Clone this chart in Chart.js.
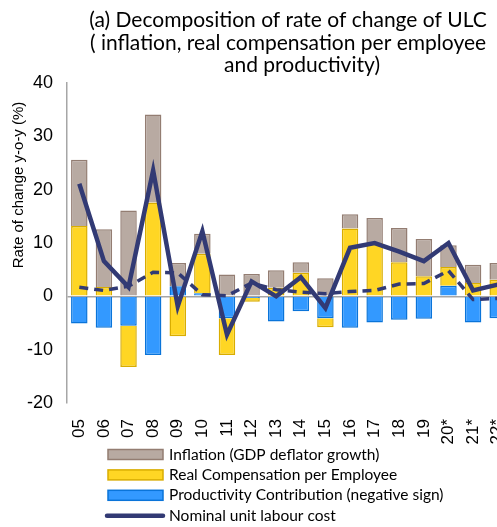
<!DOCTYPE html>
<html>
<head>
<meta charset="utf-8">
<script src="https://cdn.jsdelivr.net/npm/chart.js@4/dist/chart.umd.min.js"></script>
<style>
  html, body { margin: 0; padding: 0; background: #fff; overflow: hidden; }
  #wrap { position: relative; width: 580px; height: 560px; }
</style>
</head>
<body>
<div id="wrap"><canvas id="ulcChart" width="580" height="560"></canvas></div>
<script>
// ===== Data =====
const years = ["05", "06", "07", "08", "09", "10", "11", "12", "13", "14", "15", "16", "17", "18", "19", "20*", "21*", "22*"];
const productivity = [-5.1, -5.9, -5.5, -11.0, 1.9, 0.6, -4.1, -0.3, -4.7, -2.8, -4.1, -5.9, -4.9, -4.4, -4.2, 2.0, -4.9, -4.1];
const realComp = [13.2, 1.75, -7.75, 17.6, -7.5, 7.4, -6.9, -0.7, 1.6, 4.4, -1.7, 12.7, 10.0, 6.4, 3.75, 3.5, 2.5, 3.1];
const inflation = [12.4, 10.85, 16.1, 16.5, 4.35, 3.75, 4.1, 4.2, 3.3, 2.0, 3.4, 2.7, 4.7, 6.4, 7.0, 4.1, 3.4, 3.15];
const nominalUlc = [21.1, 6.6, 1.75, 23.6, -1.9, 12.2, -7.2, 2.8, 0.0, 3.6, -2.2, 9.1, 10.0, 8.4, 6.6, 10.0, 1.1, 2.2];
const dashedSeries = [1.7, 1.1, 1.9, 4.5, 4.4, 0.3, 0.1, 2.5, 1.25, 0.8, 0.5, 0.9, 1.1, 2.3, 2.4, 4.8, -0.6, -0.4];

const yTicks = { min: -20, max: 40, step: 10 };

const titleLines = [
  "(a) Decomposition of rate of change of ULC",
  "( inflation, real compensation per employee",
  "and productivity)"
];

const LINE_COLOR = "#323a74";

// ===== Plugins: title, y-axis title, legend =====
const titlePlugin = {
  id: "manualTitle",
  afterDraw(chart) {
    const ctx = chart.ctx;
    ctx.save();
    ctx.fillStyle = "#000";
    ctx.font = "21px Lato";
    ctx.textAlign = "center";
    ctx.textBaseline = "middle";
    const xs = [288, 288, 302];
    const ys = [20, 43, 65];
    titleLines.forEach((t, i) => ctx.fillText(t, xs[i], ys[i]));

    // y axis title
    ctx.translate(19, 185);
    ctx.rotate(-Math.PI / 2);
    ctx.font = "15px 'Liberation Sans'";
    ctx.fillStyle = "#000";
    ctx.fillText("Rate of change y-o-y (%)", 0, 0);
    ctx.restore();
  }
};

const legendPlugin = {
  id: "manualLegend",
  afterDraw(chart) {
    const ctx = chart.ctx;
    const ds = chart.data.datasets;
    const order = [2, 1, 0, 3, 4];
    ctx.save();
    ctx.font = "15.5px Lato";
    ctx.textBaseline = "middle";
    ctx.textAlign = "left";
    order.forEach((idx, row) => {
      const d = ds[idx];
      const y = 454.5 + row * 20.4;
      if (d.type === "line") {
        ctx.strokeStyle = d.borderColor;
        ctx.lineWidth = 4.5;
        ctx.lineCap = "round";
        ctx.setLineDash(d.borderDash || []);
        ctx.beginPath();
        ctx.moveTo(107, y);
        ctx.lineTo(163, y);
        ctx.stroke();
        ctx.setLineDash([]);
      } else {
        ctx.fillStyle = d.backgroundColor;
        ctx.strokeStyle = d.borderColor;
        ctx.lineWidth = 1.5;
        ctx.fillRect(108, y - 5, 55, 10);
        ctx.strokeRect(108, y - 5, 55, 10);
      }
      ctx.fillStyle = "#000";
      ctx.fillText(d.label, 169, y);
    });
    ctx.restore();
  }
};

// ===== Chart =====
const ctx = document.getElementById("ulcChart").getContext("2d");
new Chart(ctx, {
  data: {
    labels: years,
    datasets: [
      {
        type: "bar",
        label: "Productivity Contribution (negative sign)",
        data: productivity,
        backgroundColor: "#3399ff",
        borderColor: "#0a74d9",
        borderWidth: 1.5,
        order: 1
      },
      {
        type: "bar",
        label: "Real Compensation per Employee",
        data: realComp,
        backgroundColor: "#ffd624",
        borderColor: "#d9ad00",
        borderWidth: 1.5,
        order: 1
      },
      {
        type: "bar",
        label: "Inflation (GDP deflator growth)",
        data: inflation,
        backgroundColor: "#b8aaa2",
        borderColor: "#937d72",
        borderWidth: 1.5,
        order: 1
      },
      {
        type: "line",
        label: "Nominal unit labour cost",
        data: nominalUlc,
        borderColor: LINE_COLOR,
        borderWidth: 4.5,
        pointRadius: 0,
        tension: 0,
        stack: "ulc",
        order: 0
      },
      {
        type: "line",
        label: "Real unit labour cost",
        data: dashedSeries,
        borderColor: LINE_COLOR,
        borderWidth: 3.5,
        borderDash: [9, 6],
        pointRadius: 0,
        tension: 0,
        stack: "dashed",
        order: 0
      }
    ]
  },
  options: {
    responsive: false,
    animation: false,
    layout: { padding: { left: 0, right: 70, top: 83, bottom: 112 } },
    plugins: {
      legend: { display: false },
      title: { display: false },
      tooltip: { enabled: false }
    },
    datasets: {
      bar: { barPercentage: 0.67, categoryPercentage: 1.0 }
    },
    scales: {
      x: {
        stacked: true,
        offset: true,
        grid: { display: false },
        border: { display: false },
        ticks: {
          minRotation: 90,
          maxRotation: 90,
          autoSkip: false,
          padding: 8,
          color: "#000",
          font: { family: "'Liberation Sans'", size: 17 }
        },
        afterFit(scale) { scale.height = 45; }
      },
      y: {
        stacked: true,
        min: yTicks.min,
        max: yTicks.max,
        ticks: {
          stepSize: yTicks.step,
          padding: 14,
          color: "#000",
          font: { family: "'Liberation Sans'", size: 18 }
        },
        grid: {
          drawTicks: false,
          lineWidth: 1.5,
          color: (c) => (c.tick && c.tick.value === 0 ? "#a6a6a6" : "rgba(0,0,0,0)")
        },
        border: { display: true, color: "#a6a6a6", width: 1.5 },
        afterFit(scale) { scale.width = 67; }
      }
    }
  },
  plugins: [titlePlugin, legendPlugin]
});
</script>
</body>
</html>
